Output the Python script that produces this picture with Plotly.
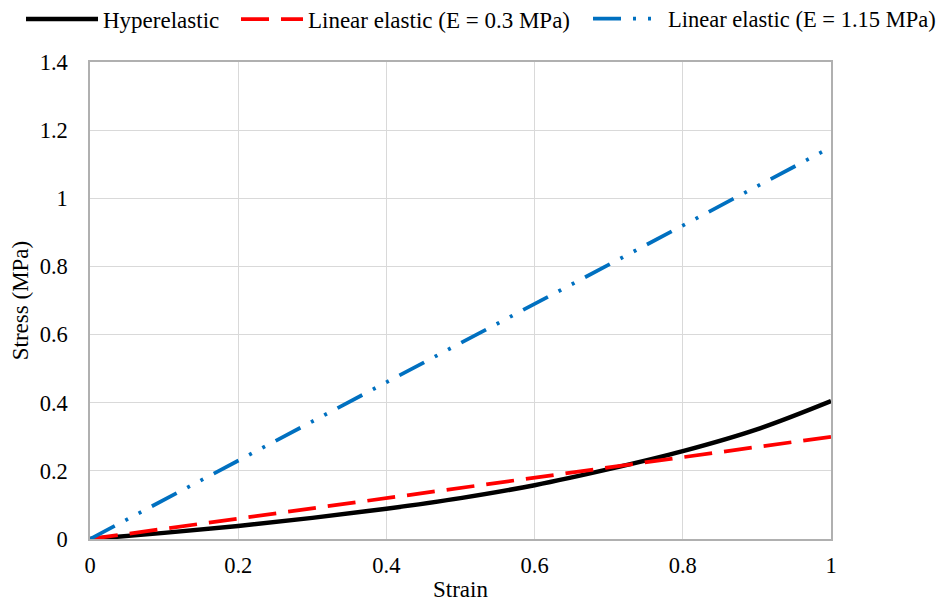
import plotly.graph_objects as go

strain = [0, 0.1, 0.2, 0.3, 0.4, 0.5, 0.6, 0.7, 0.8, 0.9, 1.0]
hyper = [0, 0.018, 0.038, 0.062, 0.089, 0.12, 0.158, 0.205, 0.258, 0.322, 0.405]
lin_03 = [0, 0.03, 0.06, 0.09, 0.12, 0.15, 0.18, 0.21, 0.24, 0.27, 0.30]
lin_115 = [0, 0.115, 0.23, 0.345, 0.46, 0.575, 0.69, 0.805, 0.92, 1.035, 1.15]

font = "Liberation Serif, Times New Roman, serif"

fig = go.Figure()
fig.add_trace(go.Scatter(x=strain, y=hyper, mode="lines", name="Hyperelastic", legend="legend",
                         line=dict(color="black", width=4.5, shape="spline")))
fig.add_trace(go.Scatter(x=strain, y=lin_03, mode="lines", name="Linear elastic (E = 0.3 MPa)",
                         legend="legend2",
                         line=dict(color="#ff0000", width=3.75, dash="28px,12px")))
fig.add_trace(go.Scatter(x=strain, y=lin_115, mode="lines", name="Linear elastic (E = 1.15 MPa)",
                         legend="legend3",
                         line=dict(color="#0070c0", width=3.75, dash="28px,12px,3px,12px,3px,12px")))

leg_common = dict(orientation="h", xanchor="left", y=1.09, yanchor="middle",
                  bgcolor="rgba(0,0,0,0)")

fig.update_layout(
    width=945, height=602,
    margin=dict(l=82, r=122, t=54, b=71, autoexpand=False),
    plot_bgcolor="white", paper_bgcolor="white",
    font=dict(family=font, size=22.5, color="black"),
    showlegend=True,
    legend=dict(x=-0.0931, itemwidth=72, font=dict(family=font, size=23), **leg_common),
    legend2=dict(x=0.197, itemwidth=62, font=dict(family=font, size=23), **leg_common),
    legend3=dict(x=0.6721, itemwidth=70, font=dict(family=font, size=22.5), **leg_common),
    xaxis=dict(range=[0, 1], dtick=0.2, showgrid=True, gridcolor="#d9d9d9", gridwidth=1,
               showline=True, linecolor="#b0b0b0", linewidth=1.5, mirror=True, zeroline=False,
               automargin=False, ticks="", tickfont=dict(size=22.5), ticklabelstandoff=5,
               title=dict(text="Strain", font=dict(size=23), standoff=4)),
    yaxis=dict(range=[0, 1.4], dtick=0.2, showgrid=True, gridcolor="#d9d9d9", gridwidth=1,
               showline=True, linecolor="#b0b0b0", linewidth=1.5, mirror=True, zeroline=False,
               automargin=False, ticks="", tickfont=dict(size=22.5), ticklabelstandoff=16,
               title=dict(text="Stress (MPa)", font=dict(size=23), standoff=6)),
)

fig.write_html("out.html")
